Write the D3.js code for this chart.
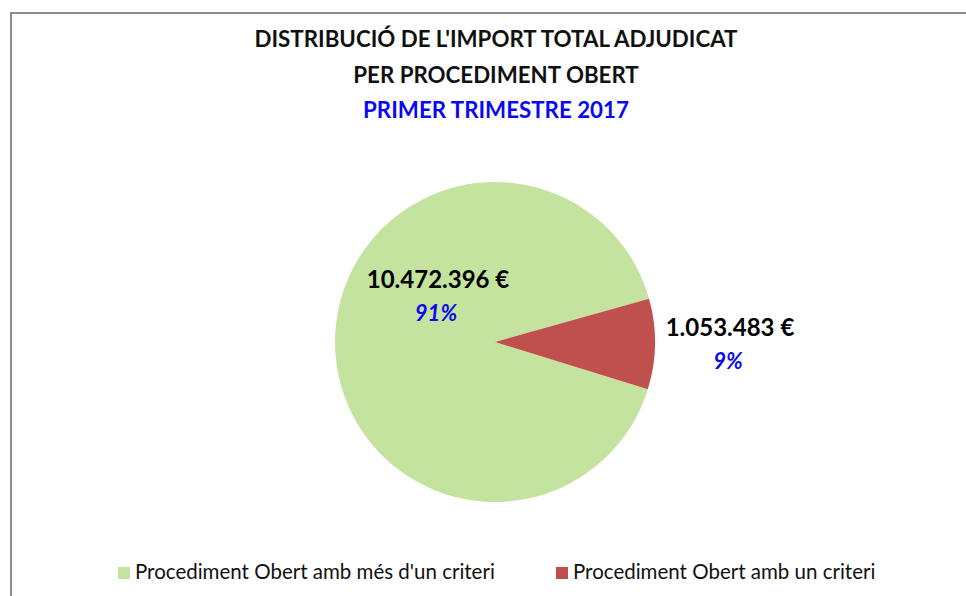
<!DOCTYPE html>
<html>
<head>
<meta charset="utf-8">
<script src="https://cdn.jsdelivr.net/npm/d3@7"></script>
<style>
  html, body { margin: 0; padding: 0; background: #fff; }
  svg { display: block; font-family: Lato, "Open Sans", sans-serif; }
</style>
</head>
<body>
<div id="chart"></div>
<script>
// data
const categories = ["Procediment Obert amb més d'un criteri", "Procediment Obert amb un criteri"];
const amounts = [10472396, 1053483];
const amountLabels = ["10.472.396 €", "1.053.483 €"];
const pctLabels = ["91%", "9%"];
const titleLines = ["DISTRIBUCIÓ DE L'IMPORT TOTAL ADJUDICAT", "PER PROCEDIMENT OBERT", "PRIMER TRIMESTRE 2017"];

const W = 966, H = 596;
const cx = 495, cy = 342, radius = 160;
const colors = ['#c4e39e', '#c0504d'];
// label anchor offsets from pie centre (labels were dragged by hand in the original)
const labelOffsets = [{ dx: -57, dy: -54 }, { dx: 235, dy: -6 }];

const svg = d3.select('#chart').append('svg')
	.attr('width', W)
	.attr('height', H);

// chart area frame (only left and top edges show)
svg.append('path')
	.attr('d', 'M11,' + H + ' V13 H' + W)
	.attr('fill', 'none')
	.attr('stroke', '#8c8c8c')
	.attr('stroke-width', 2);

// title
const titleY = [47, 83, 118];
svg.append('g').selectAll('text')
	.data(titleLines)
	.enter()
	.append('text')
	.attr('x', 496)
	.attr('y', (d, i) => titleY[i])
	.attr('text-anchor', 'middle')
	.attr('font-size', 22.3)
	.attr('font-weight', 'bold')
	.attr('fill', (d, i) => i == 2 ? '#0a0af0' : '#111')
	.text(d => d);

// pie
const startA = 107.2 * Math.PI / 180;
const pie = d3.pie().sort(null).startAngle(startA).endAngle(startA + 2 * Math.PI);
const arc = d3.arc().innerRadius(0).outerRadius(radius);
const arcs = pie(amounts);

const g = svg.append('g').attr('transform', 'translate(' + cx + ',' + cy + ')');

g.selectAll('path')
	.data(arcs)
	.enter()
	.append('path')
	.attr('d', arc)
	.attr('fill', (d, i) => colors[i]);

// data labels
const lbl = g.selectAll('g.lbl')
	.data(arcs)
	.enter()
	.append('g')
	.attr('class', 'lbl')
	.attr('transform', (d, i) => 'translate(' + labelOffsets[i].dx + ',' + labelOffsets[i].dy + ')');

lbl.append('text')
	.attr('text-anchor', 'middle')
	.attr('y', 0)
	.attr('font-size', 24)
	.attr('font-weight', 'bold')
	.attr('fill', '#000')
	.text((d, i) => amountLabels[i]);

lbl.append('text')
	.attr('text-anchor', 'middle')
	.attr('x', -2)
	.attr('y', 33)
	.attr('font-size', 22)
	.attr('font-weight', 'bold')
	.attr('font-style', 'italic')
	.attr('fill', '#0a0af0')
	.text((d, i) => pctLabels[i]);

// legend
const legendX = [118, 556];
const leg = svg.append('g').selectAll('g')
	.data(categories)
	.enter()
	.append('g')
	.attr('transform', (d, i) => 'translate(' + legendX[i] + ',567)');

leg.append('rect')
	.attr('width', 12)
	.attr('height', 12)
	.attr('fill', (d, i) => colors[i]);

leg.append('text')
	.attr('x', 17)
	.attr('y', 12)
	.attr('font-size', 20.5)
	.attr('fill', '#111')
	.text(d => d);
</script>
</body>
</html>
